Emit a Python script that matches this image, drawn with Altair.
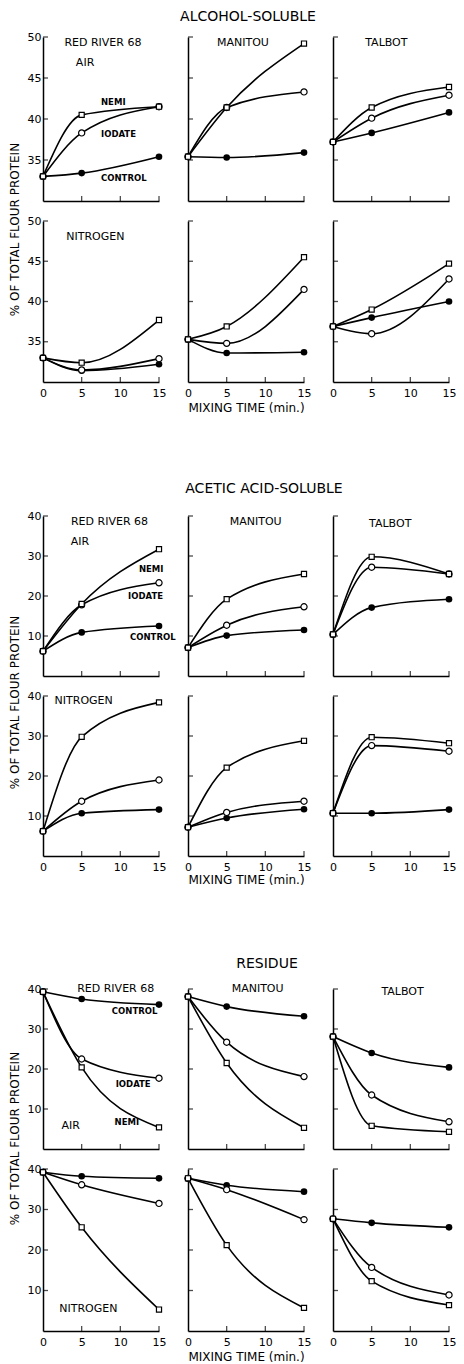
import altair as alt
import pandas as pd

FONT = "DejaVu Sans"

TIMES = [0, 5, 15]
SERIES = ["NEMI", "IODATE", "CONTROL"]
CULTIVARS = ["RED RIVER 68", "MANITOU", "TALBOT"]
ATMOSPHERES = ["AIR", "NITROGEN"]
SECTIONS = ["ALCOHOL-SOLUBLE", "ACETIC ACID-SOLUBLE", "RESIDUE"]
X_TICKS = [0, 5, 10, 15]
Y_TICKS = [[35, 40, 45, 50], [10, 20, 30, 40], [10, 20, 30, 40]]
Y_DOMAINS = [[30, 50], [0, 40], [0, 40]]
Y_TITLE = "% OF TOTAL FLOUR PROTEIN"
X_TITLE = "MIXING TIME (min.)"

# % of total flour protein at 0, 5 and 15 min -- one triple per cultivar
alc_air_nemi = [[33.0, 40.5, 41.5], [35.4, 41.4, 49.2], [37.2, 41.4, 43.9]]
alc_air_iodate = [[33.0, 38.3, 41.5], [35.4, 41.4, 43.3], [37.2, 40.1, 42.9]]
alc_air_control = [[33.0, 33.4, 35.4], [35.4, 35.3, 35.9], [37.2, 38.3, 40.8]]
alc_n2_nemi = [[33.0, 32.4, 37.7], [35.3, 36.9, 45.5], [36.9, 39.0, 44.7]]
alc_n2_iodate = [[33.0, 31.5, 32.9], [35.3, 34.8, 41.5], [36.9, 36.0, 42.8]]
alc_n2_control = [[33.0, 31.4, 32.2], [35.3, 33.6, 33.7], [36.9, 38.0, 40.0]]

ace_air_nemi = [[6.2, 18.0, 31.7], [7.1, 19.2, 25.5], [10.4, 29.8, 25.5]]
ace_air_iodate = [[6.2, 17.8, 23.3], [7.1, 12.7, 17.3], [10.4, 27.2, 25.5]]
ace_air_control = [[6.2, 10.9, 12.5], [7.1, 10.1, 11.5], [10.4, 17.1, 19.2]]
ace_n2_nemi = [[6.2, 29.8, 38.4], [7.2, 22.1, 28.8], [10.7, 29.7, 28.2]]
ace_n2_iodate = [[6.2, 13.7, 19.0], [7.2, 10.9, 13.7], [10.7, 27.6, 26.2]]
ace_n2_control = [[6.2, 10.7, 11.6], [7.2, 9.5, 11.7], [10.7, 10.7, 11.6]]

res_air_nemi = [[39.3, 20.4, 5.4], [38.1, 21.5, 5.3], [28.1, 5.8, 4.3]]
res_air_iodate = [[39.3, 22.5, 17.7], [38.1, 26.7, 18.1], [28.1, 13.5, 6.8]]
res_air_control = [[39.3, 37.5, 36.1], [38.1, 35.6, 33.2], [28.1, 24.0, 20.4]]
res_n2_nemi = [[39.2, 25.6, 5.3], [37.7, 21.2, 5.7], [27.7, 12.3, 6.4]]
res_n2_iodate = [[39.2, 36.1, 31.5], [37.7, 34.9, 27.5], [27.7, 15.7, 8.9]]
res_n2_control = [[39.2, 38.2, 37.7], [37.7, 36.0, 34.4], [27.7, 26.7, 25.6]]

VALUES = [
    [[alc_air_nemi, alc_air_iodate, alc_air_control], [alc_n2_nemi, alc_n2_iodate, alc_n2_control]],
    [[ace_air_nemi, ace_air_iodate, ace_air_control], [ace_n2_nemi, ace_n2_iodate, ace_n2_control]],
    [[res_air_nemi, res_air_iodate, res_air_control], [res_n2_nemi, res_n2_iodate, res_n2_control]],
]

# annotation anchors (minutes, %)
CULTIVAR_AT = [[(7.75, 49.3), (7.1, 49.3), (6.9, 49.3)],
               [(8.6, 38.5), (8.75, 38.5), (7.4, 38.0)],
               [(9.4, 40.0), (9.0, 40.0), (9.0, 39.3)]]
ATMOS_AT = [[(4.25, 46.8), (3.0, 48.0)],
            [(3.6, 33.5), (1.5, 38.75)],
            [(2.4, 5.75), (2.1, 5.4)]]
SERIES_AT = [[(7.5, 42.1), (7.5, 38.2), (7.5, 32.8)],
             [(12.4, 26.75), (11.0, 20.0), (11.25, 9.75)],
             [(9.25, 6.75), (9.4, 16.25), (8.9, 34.5)]]

# layout
PANEL_W = 116
COL_GAP = 29
ROW_GAP = 20
ROW_H = [[164, 161], [160, 160], [160, 162]]
SPACER_H = [9, 94, 93]
TITLE_POS = [(205, 9), (221, 87), (224, 88)]
YTITLE_Y = [192, 186, 149]
XTITLE_PAD = [4, 2, 4]


def panel(s, a, c):
    ymin, ymax = Y_DOMAINS[s]
    rows = []
    for name, arr in zip(SERIES, VALUES[s][a]):
        for t, v in zip(TIMES, arr[c]):
            rows.append({"t": t, "v": v, "series": name})
    df = pd.DataFrame(rows)

    bottom = a == 1
    xkw = dict(values=X_TICKS, labels=bottom, labelPadding=5, labelFlush=False)
    if bottom and c == 1:
        xkw.update(title=X_TITLE, titlePadding=XTITLE_PAD[s])
    else:
        xkw.update(title=None)
    ykw = dict(values=Y_TICKS[s], labels=(c == 0), labelPadding=2)
    if c == 0 and a == 0:
        ykw.update(title=Y_TITLE, titleX=-29, titleY=YTITLE_Y[s], titleAngle=270,
                   titleAlign="center", titleBaseline="middle", titleFontSize=12)
    else:
        ykw.update(title=None)

    x = alt.X("t:Q", scale=alt.Scale(domain=[0, 15], nice=False, zero=False), axis=alt.Axis(**xkw))
    y = alt.Y("v:Q", scale=alt.Scale(domain=[ymin, ymax], nice=False, zero=False), axis=alt.Axis(**ykw))

    base = alt.Chart(df).encode(x=x, y=y)
    lines = base.mark_line(interpolate="monotone", color="black", strokeWidth=1.6).encode(detail="series:N")
    ctrl = base.transform_filter(alt.datum.series == "CONTROL").mark_point(
        shape="circle", filled=True, color="black", size=44, opacity=1)
    iod = base.transform_filter(alt.datum.series == "IODATE").mark_point(
        shape="circle", filled=True, fill="white", stroke="black", strokeWidth=1.2, size=38, opacity=1)
    nemi = base.transform_filter(alt.datum.series == "NEMI").mark_point(
        shape="square", filled=True, fill="white", stroke="black", strokeWidth=1.2, size=26, opacity=1)

    xt = alt.Chart(pd.DataFrame({"t": X_TICKS[1:], "v": [ymin] * 3})).mark_tick(
        orient="vertical", size=5, thickness=1.3, color="black", yOffset=-2.5).encode(x=x, y=y)
    yt = alt.Chart(pd.DataFrame({"t": [0] * len(Y_TICKS[s]), "v": Y_TICKS[s]})).mark_tick(
        orient="horizontal", size=5, thickness=1.3, color="black", xOffset=2.5).encode(x=x, y=y)

    layers = [lines, xt, yt, ctrl, iod, nemi]

    if a == 0:
        ct, cv = CULTIVAR_AT[s][c]
        layers.append(alt.Chart(pd.DataFrame({"t": [ct], "v": [cv], "lab": [CULTIVARS[c]]})).mark_text(
            font=FONT, fontSize=11, align="center", baseline="middle", color="black").encode(x=x, y=y, text="lab:N"))
    if c == 0:
        at, av = ATMOS_AT[s][a]
        layers.append(alt.Chart(pd.DataFrame({"t": [at], "v": [av], "lab": [ATMOSPHERES[a]]})).mark_text(
            font=FONT, fontSize=11, align="left", baseline="middle", color="black").encode(x=x, y=y, text="lab:N"))
    if c == 0 and a == 0:
        sdf = pd.DataFrame({"t": [p[0] for p in SERIES_AT[s]], "v": [p[1] for p in SERIES_AT[s]], "lab": SERIES})
        layers.append(alt.Chart(sdf).mark_text(
            font=FONT, fontSize=8.5, fontWeight="bold", align="left", baseline="middle", color="black"
        ).encode(x=x, y=y, text="lab:N"))

    return alt.layer(*layers).properties(width=PANEL_W, height=ROW_H[s][a])


def spacer(h, text, tx, ty):
    return alt.Chart(pd.DataFrame({"lab": [text]})).mark_text(
        font=FONT, fontSize=14, align="center", baseline="middle", color="black"
    ).encode(text="lab:N", x=alt.value(tx), y=alt.value(ty)).properties(width=PANEL_W, height=h)


cells = []
for s in range(3):
    tx, ty = TITLE_POS[s]
    cells += [spacer(SPACER_H[s], SECTIONS[s], tx, ty),
              spacer(SPACER_H[s], "", PANEL_W / 2, ty),
              spacer(SPACER_H[s], "", PANEL_W / 2, ty)]
    for a in range(2):
        for c in range(3):
            cells.append(panel(s, a, c))

chart = alt.concat(
    *cells, columns=3, spacing={"row": ROW_GAP, "column": COL_GAP}, bounds="flush", align="each", padding=0
).configure_view(stroke=None).configure_axis(
    domainColor="black", domainWidth=1.5, ticks=False, tickSize=0, grid=False,
    labelFont=FONT, labelFontSize=11, labelColor="black",
    titleFont=FONT, titleFontSize=12, titleFontWeight="normal", titleColor="black",
)

chart.save("out.html", embed_options={"renderer": "svg", "actions": False})
